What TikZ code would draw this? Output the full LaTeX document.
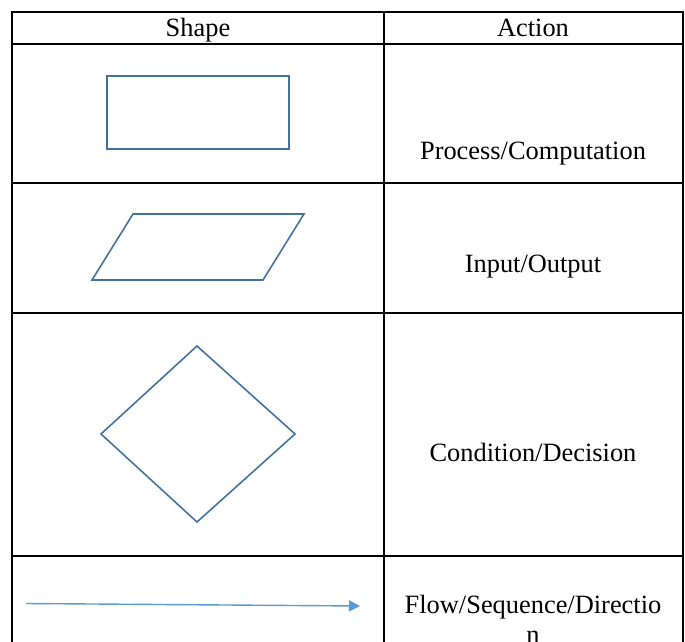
\documentclass[tikz,border=0pt]{standalone}
\usepackage{fontspec}
\setmainfont{Liberation Serif}
\usetikzlibrary{arrows.meta}

\definecolor{shapeblue}{RGB}{68,114,160}
\definecolor{flowblue}{RGB}{91,155,213}
\newcommand\celltextstyle{\fontsize{13.2}{15}\selectfont}

\tikzset{
  gridline/.style={line width=0.9pt, black},
  symbolline/.style={line width=0.8pt, draw=shapeblue},
  flowline/.style={line width=0.7pt, draw=flowblue, -{Triangle[length=5.5pt,width=5.5pt]}},
  celltext/.style={anchor=base, inner sep=0pt, font=\celltextstyle, align=center},
}

\begin{document}
\begin{tikzpicture}[x=0.5pt, y=-0.5pt]
  \useasboundingbox (0,0) rectangle (685,642);
  \clip (0,0) rectangle (685,642);
  % table grid
  \draw[gridline] (12,660) -- (12,12) -- (683,12) -- (683,660);
  \draw[gridline] (384,12) -- (384,660);
  \foreach \y in {44,183,313,556}
    \draw[gridline] (12,\y) -- (683,\y);
  % header
  \node[celltext] (shapehead) at (198,37) {Shape};
  \node[celltext] (actionhead) at (533,37) {Action};
  % symbols
  \draw[symbolline] (107,76) rectangle (289,149);
  \draw[symbolline] (133,214) -- (304,214) -- (263,280) -- (92,280) -- cycle;
  \draw[symbolline] (197,346) -- (295,434) -- (197,522) -- (101,434) -- cycle;
  \coordinate (flowstart) at (26,603.5);
  \coordinate (flowend) at (360,606);
  \draw[flowline] (flowstart) -- (flowend);
  % actions
  \node[celltext] (process) at (533,160) {Process/Computation};
  \node[celltext] (inout) at (533,272) {Input/Output};
  \node[celltext] (decision) at (533,461) {Condition/Decision};
  \node[celltext] (flow) at (533,643) {Flow/Sequence/Directio\\n};
\end{tikzpicture}
\end{document}
